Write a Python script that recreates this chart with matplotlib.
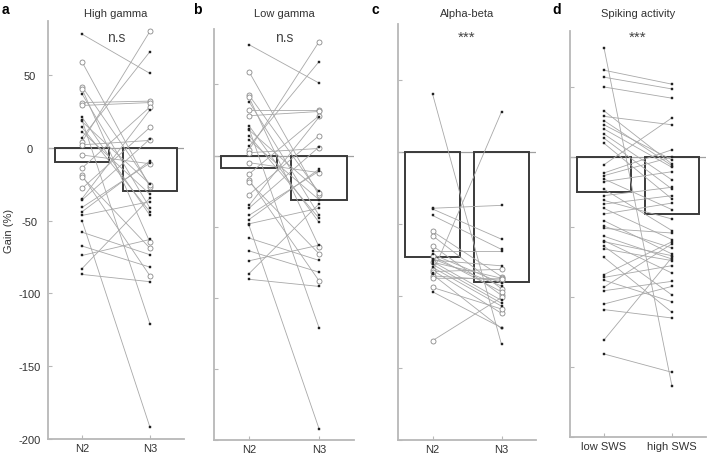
import matplotlib
matplotlib.use('Agg')
import matplotlib.pyplot as plt
import matplotlib.transforms as mtransforms

plt.rcParams['font.family'] = ['Liberation Sans', 'DejaVu Sans']
plt.rcParams['axes.unicode_minus'] = False

# a: high gamma, paired N2 -> N3 gains (%), 1 = open circle, 0 = small filled marker
a_n2 = [78, 59, 42, 40.5, 37, 31, 29, 21, 19, 18, 14, 11, 7, 4, 2, -5, -14, -19, -20, -28,
        -35, -36, -41, -44, -46.5, -50, -58, -67.5, -74, -83, -87]
a_n3 = [51, -27, -25.5, -65, -41.5, 32, 31, -46.5, -121, -25, -44, -32, 66, 80, 5, -11, 28, -88, -69, 14,
        26, 6, -10.5, -9, -37, -192, -73.5, -82, -63, -34.5, -92]
a_open = [0, 1, 1, 1, 0, 1, 1, 0, 0, 0, 0, 0, 0, 1, 1, 1, 1, 1, 1, 1,
          0, 0, 0, 0, 0, 0, 0, 0, 0, 0, 0]
a_bars = [-10, -30]

# b: low gamma
b_n2 = [78, 59, 42.5, 41, 38, 32, 28, 21, 19, 18, 14, 11, 6.5, 4, 2, -5, -13, -17, -18.5, -27.5,
        -35, -37, -42, -45, -48, -49, -58, -67, -74, -83, -87]
b_n3 = [51, -28, -26, -64, -42, 32, 31, -47, -121, -25, -44, -31, 66, 80, 5, -12, 28, -88, -69, 14,
        27, 6, -11, -9.6, -37, -192, -73.7, -82, -63, -34, -92]
b_open = a_open
b_bars = [-9, -31]

# c: alpha-beta
c_n2 = [40.5, -39, -39.5, -44, -55, -58, -65, -69, -71, -72, -74, -75, -76, -76.5, -78, -80, -82, -83,
        -84, -85, -86, -87.6, -94, -97, -131]
c_n3 = [-133.6, -37, -60.5, -67.6, -86.5, -95, -99.5, -69, -91, -97, -93, -79, -103, -87.6, -105, -107,
        -112, -81.4, 28, -122.5, -89, -88, -109, -122, -101]
c_open = [0, 0, 0, 0, 1, 1, 1, 0, 0, 1, 0, 0, 0, 1, 0, 0, 1, 1,
          0, 0, 1, 1, 1, 0, 1]
c_bars = [-73, -90]

# d: spiking activity, low SWS -> high SWS
d_low = [78, 62, 57, 50, 33, 29, 26, 23, 20, 16.4, 13.4, 9.8, -5.5, -11.4, -13.3, -15.7, -17.6, -23,
         -27.6, -31, -33.6, -36.7, -40.7, -45.5, -49.5, -51, -56.6, -59.8, -60.5, -63.8, -65.7, -71.7,
         -84, -86, -88, -93, -95.5, -105, -109, -130.7, -140.7]
d_high = [-163.8, 52, 48.6, 42, -5, 23, -6.2, -2, -7.4, -16.4, -22.9, -30, 28, 5.2, 0, -37.6, -10.5, -52.6,
          -21.6, -44.3, -27.6, -59, -32.9, -69.3, -65, -54.3, -72.9, -82.9, -70.5, -98.6, -74, -111,
          -60.5, -77.6, -103.4, -62, -88.8, -92.4, -115, -71.7, -153.8]
d_open = [0] * len(d_low)
d_bars = [-25, -41]

panels = [
    ('a', 'High gamma', 'n.s', ['N2', 'N3'], a_n2, a_n3, a_open, a_bars),
    ('b', 'Low gamma', 'n.s', ['N2', 'N3'], b_n2, b_n3, b_open, b_bars),
    ('c', 'Alpha-beta', '***', ['N2', 'N3'], c_n2, c_n3, c_open, c_bars),
    ('d', 'Spiking activity', '***', ['low SWS', 'high SWS'], d_low, d_high, d_open, d_bars),
]

W, H = 707, 456
fig = plt.figure(figsize=(W / 100, H / 100), dpi=100)

# pixel boxes: left, right, top, bottom, ylim top, letter x
boxes = [
    (48, 184, 22, 440, 87, 2),
    (214, 354, 30, 441, 89, 193),
    (398, 536, 25, 441, 89, 371),
    (570, 706, 32, 438, 90, 552),
]

grey = '#b8b8b8'
txt = '#333333'
for (letter, title, sig, xt, v1, v2, op, bars), (l, r, t, b, ytop, lx) in zip(panels, boxes):
    ax = fig.add_axes([l / W, 1 - b / H, (r - l) / W, (b - t) / H])
    ax.set_xlim(0.5, 2.5)
    ax.set_ylim(-200, ytop)

    ax.bar([1, 2], bars, width=0.8, fill=False, edgecolor='#3a3a3a', linewidth=1.4, zorder=2)
    ax.axhline(0, color='#a0a0a0', lw=0.9, zorder=1)

    for y1, y2, o in zip(v1, v2, op):
        ax.plot([1, 2], [y1, y2], color='#a8a8a8', lw=0.6, zorder=3)
        if o:
            ax.plot([1, 2], [y1, y2], ls='none', marker='o', ms=3.6, mfc='white',
                    mec='#8a8a8a', mew=0.6, zorder=4)
        else:
            ax.plot([1, 2], [y1, y2], ls='none', marker='s', ms=1.7, mfc='#222222',
                    mec='#222222', mew=0.3, zorder=5)

    for s in ['top', 'right']:
        ax.spines[s].set_visible(False)
    for s in ['left', 'bottom']:
        ax.spines[s].set_color(grey)
        ax.spines[s].set_linewidth(1.3)

    ax.set_yticks([-200, -150, -100, -50, 0, 50])
    ax.set_xticks([1, 2])
    ax.set_xticklabels(xt)
    ax.tick_params(axis='both', direction='in', colors=grey, length=3, width=0.8,
                   labelcolor=txt, labelsize=8)
    ax.tick_params(axis='x', pad=3)
    if letter != 'a':
        ax.set_yticklabels([])
    else:
        ax.tick_params(axis='y', pad=13)
        for lab in ax.get_yticklabels():
            lab.set_ha('center')

    trans = mtransforms.blended_transform_factory(ax.transData, fig.transFigure)
    ax.text(1.5, 1 - 14 / H, title, transform=trans, ha='center', va='center',
            fontsize=8, color=txt)
    ax.text(1.5, 1 - 38 / H, sig, transform=trans, ha='center', va='center',
            fontsize=10 if sig == 'n.s' else 11, color='#444444')
    fig.text(lx / W, 1 - 10 / H, letter, fontsize=10, fontweight='bold', ha='left', va='center')

fig.text(9 / W, 1 - 231 / H, 'Gain (%)', rotation=90, ha='center', va='center',
         fontsize=8, color=txt)

fig.savefig('out.png', dpi=100)
